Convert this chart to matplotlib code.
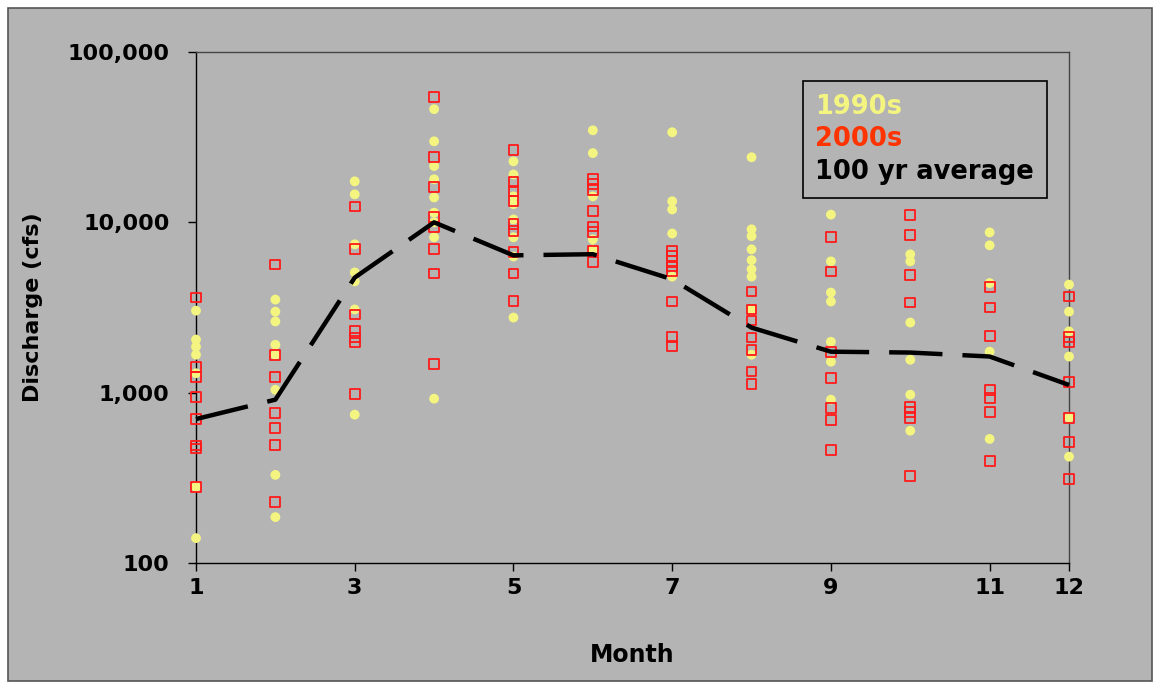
import matplotlib
matplotlib.use('Agg')
import matplotlib.pyplot as plt
import matplotlib.patches as mpatches
from matplotlib.ticker import FuncFormatter, NullLocator
import numpy as np

BG_GRAY = "#b4b4b4"
YELLOW = "#f4f480"
RED = "#ff1a1a"

months = list(range(1, 13))

# 1990s monthly discharge (cfs), yellow dots
q1990 = {
    1: [3030, 2050, 1860, 1670, 1300, 280, 140],
    2: [3520, 2990, 2620, 1910, 1670, 1040, 329, 186],
    3: [17400, 14600, 7430, 5080, 4500, 3080, 743],
    4: [46200, 29900, 21400, 17900, 14000, 11400, 10000, 8170, 922],
    5: [19100, 22800, 14200, 12800, 10400, 8170, 6300, 2760],
    6: [34700, 25500, 14200, 7940, 6940],
    7: [33800, 13300, 11900, 8600, 4800],
    8: [24100, 9100, 8300, 6940, 6000, 5300, 4800, 3080, 1670],
    9: [11100, 5900, 3870, 3430, 1990, 1520, 910],
    10: [6490, 5900, 2580, 1560, 973, 598],
    11: [8730, 7330, 4400, 1740, 535],
    12: [4310, 2990, 2290, 1630, 713, 421],
}

# 2000s monthly discharge (cfs), red open squares
q2000 = {
    1: [3620, 1420, 1240, 946, 703, 490, 470, 280],
    2: [5660, 1670, 1240, 762, 622, 494, 228],
    3: [12400, 6940, 2880, 2290, 2110, 1970, 986],
    4: [54300, 24100, 16100, 10800, 9350, 6940, 5010, 1480],
    5: [26500, 17200, 15200, 13300, 9730, 8860, 6670, 5010, 3470],
    6: [17900, 16700, 15400, 11600, 9460, 8730, 6750, 5820],
    7: [6750, 6310, 5900, 5510, 5150, 3430, 2130, 1870],
    8: [3930, 3080, 2650, 2110, 1790, 1330, 1130],
    9: [8170, 5150, 1740, 1220, 817, 693, 462],
    10: [11100, 8390, 4880, 3380, 828, 773, 713, 325],
    11: [4150, 3160, 2160, 1040, 935, 773, 398],
    12: [3670, 2130, 1990, 1160, 713, 515, 312],
}

# 100 year monthly average
avg100 = [700, 910, 4740, 10000, 6400, 6500, 4630, 2410, 1740, 1720, 1630, 1110]

fig = plt.figure(figsize=(11.55, 6.87), dpi=100)
fig.patch.set_facecolor("white")
frame = mpatches.Rectangle((8 / 1155, 6 / 687), 1144 / 1155, 673 / 687,
                           transform=fig.transFigure, facecolor=BG_GRAY,
                           edgecolor="#555555", linewidth=1.2, zorder=-10)
fig.add_artist(frame)

ax = fig.add_axes([196 / 1155, 124 / 687, 873 / 1155, 511 / 687])
ax.set_zorder(1)
ax.set_facecolor(BG_GRAY)

for m in months:
    ax.scatter([m] * len(q1990[m]), q1990[m], s=50, color=YELLOW, edgecolors="none",
               zorder=3, clip_on=False)
for m in months:
    ax.scatter([m] * len(q2000[m]), q2000[m], s=50, marker="s", facecolors="none",
               edgecolors=RED, linewidths=1.3, zorder=4, clip_on=False)

ax.plot(months, avg100, color="black", linewidth=3.2, dashes=(12, 4.5), zorder=5,
        clip_on=False)

ax.set_yscale("log")
ax.set_ylim(100, 100000)
ax.set_xlim(1, 12)
ax.set_yticks([100, 1000, 10000, 100000])
ax.yaxis.set_minor_locator(NullLocator())
ax.yaxis.set_major_formatter(FuncFormatter(lambda v, p: f"{int(round(v)):,}"))
ax.set_xticks([1, 3, 5, 7, 9, 11, 12])

for spine in ax.spines.values():
    spine.set_color("#444444")
    spine.set_linewidth(1.0)
ax.spines["left"].set_color("black")
ax.spines["bottom"].set_color("black")

ax.tick_params(axis="both", direction="out", length=6, width=1, colors="black",
               labelsize=16, pad=5)
ax.tick_params(axis="y", pad=13)
for lbl in ax.get_xticklabels() + ax.get_yticklabels():
    lbl.set_fontweight("bold")

ax.set_xlabel("Month", fontsize=17, fontweight="bold", labelpad=32)
ax.set_ylabel("Discharge (cfs)", fontsize=16, fontweight="bold", labelpad=18)

handles = [mpatches.Patch(color="none") for _ in range(3)]
leg = ax.legend(handles, ["1990s", "2000s", "100 yr average"], loc="upper right",
                bbox_to_anchor=(1047 / 1155, 606 / 687), bbox_transform=fig.transFigure,
                borderaxespad=0, handlelength=0, handletextpad=0, frameon=True,
                fancybox=False, facecolor=BG_GRAY, edgecolor="black", framealpha=1,
                prop={"size": 18.5, "weight": "bold"}, labelspacing=0.25,
                borderpad=0.5)
leg.get_frame().set_linewidth(1.2)
for txt, col in zip(leg.get_texts(), [YELLOW, "#ff3300", "black"]):
    txt.set_color(col)

fig.savefig("out.png", dpi=100, facecolor=fig.get_facecolor())
